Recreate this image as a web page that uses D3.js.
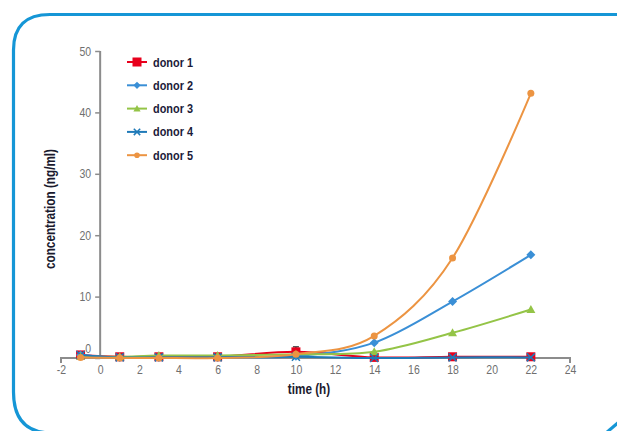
<!DOCTYPE html>
<html><head><meta charset="utf-8">
<script src="https://cdn.jsdelivr.net/npm/d3@7"></script>
<style>
html,body{margin:0;padding:0;background:#fff;}
svg{display:block;}
.lbl{font-family:"Liberation Sans",Arial,sans-serif;}
</style></head>
<body>
<svg id="c" width="617" height="431"></svg>
<script>
const times = [-1, 1, 3, 6, 10, 14, 18, 22];
const seriesNames = ["donor 1", "donor 2", "donor 3", "donor 4", "donor 5"];
const donor1 = [0.5, 0.2, 0.2, 0.2, 1.0, 0.1, 0.2, 0.2];
const donor2 = [0.5, 0.1, 0.1, 0.1, 0.3, 2.5, 9.2, 16.8];
const donor3 = [0.3, 0.2, 0.4, 0.4, 0.6, 1.0, 4.1, 7.9];
const donor4 = [0.5, 0.1, 0.1, 0.1, 0.2, 0.0, 0.1, 0.1];
const donor5 = [0.1, 0.0, 0.0, 0.0, 0.6, 3.6, 16.3, 43.1];
const donor1ErrTime = 10, donor1ErrHigh = 1.8;
const xTicks = [-2, 0, 2, 4, 6, 8, 10, 12, 14, 16, 18, 20, 22, 24];
const yTicks = [0, 10, 20, 30, 40, 50];
const colors = ["#e8001c", "#3a8fd6", "#94c447", "#1f7ab8", "#ec9442"];
const symbols = ["square", "diamond", "triangle", "cross", "circle"];
const allValues = [donor1, donor2, donor3, donor4, donor5];

const SX = 0.84; // condensed look
const svg = d3.select("#c");
// frame
svg.append("path")
  .attr("d", "M640,14.5 H50 Q13.5,14.5 13.5,50 V392 Q13.5,433 52,433")
  .attr("fill", "none").attr("stroke", "#1596d6").attr("stroke-width", 3.2);
svg.append("path")
  .attr("d", "M606,433 L620,421")
  .attr("fill", "none").attr("stroke", "#1596d6").attr("stroke-width", 3.2);

const x = d3.scaleLinear().domain([-2, 24]).range([61, 570]);
const y = d3.scaleLinear().domain([0, 50]).range([358, 51]);

const axisColor = "#8c8c8c";
// y axis
const ya = svg.append("g").attr("transform", `translate(${x(0)},0)`)
  .call(d3.axisLeft(y).tickValues(yTicks).tickSize(5).tickPadding(4).tickFormat(d => String(d)));
ya.select(".domain").attr("stroke", axisColor).attr("stroke-width", 2).attr("d", `M0,${y(0)}V${y(50)}`);
ya.selectAll(".tick line").attr("stroke", axisColor).attr("stroke-width", 1.5);
ya.selectAll(".tick text").attr("class", "lbl").attr("fill", "#6f6f6f").style("font-size", "12.5px")
  .attr("x", -9 / SX).attr("transform", `scale(${SX},1)`)
  .attr("dy", (d) => d === 0 ? "-0.45em" : "0.32em");

// x axis
const xa = svg.append("g").attr("transform", `translate(0,${y(0)})`)
  .call(d3.axisBottom(x).tickValues(xTicks).tickSize(0).tickPadding(7).tickFormat(d => String(d)));
xa.select(".domain").attr("stroke", axisColor).attr("stroke-width", 2).attr("d", `M${x(-2)},5V0H${x(24)}V5`);
xa.selectAll(".tick text").attr("class", "lbl").attr("fill", "#6f6f6f").style("font-size", "12.5px")
  .attr("transform", `scale(${SX},1)`);

function ctext(px, py, rot, str, size, anchor, color, weight) {
  return svg.append("text").attr("class", "lbl")
    .attr("transform", `translate(${px},${py}) rotate(${rot}) scale(${SX},1)`)
    .attr("text-anchor", anchor).style("font-size", size).style("font-weight", weight)
    .attr("fill", color).text(str);
}
// titles
ctext(309, 394, 0, "time (h)", "14px", "middle", "#1a1a2e", "bold");
ctext(55, 209, -90, "concentration (ng/ml)", "14px", "middle", "#1a1a2e", "bold");

const line = d3.line().x(d => x(d[0])).y(d => y(d[1])).curve(d3.curveCatmullRom.alpha(0));

function drawMarker(g, type, color, cx, cy, scale) {
  const s = scale || 1;
  if (type === "square") {
    g.append("rect").attr("x", cx - 4.5 * s).attr("y", cy - 4.5 * s).attr("width", 9 * s).attr("height", 9 * s).attr("fill", color);
  } else if (type === "diamond") {
    g.append("path").attr("d", `M${cx},${cy - 4.5 * s}L${cx + 4.5 * s},${cy}L${cx},${cy + 4.5 * s}L${cx - 4.5 * s},${cy}Z`).attr("fill", color);
  } else if (type === "triangle") {
    g.append("path").attr("d", `M${cx},${cy - 4.5 * s}L${cx + 4.5 * s},${cy + 3.5 * s}L${cx - 4.5 * s},${cy + 3.5 * s}Z`).attr("fill", color);
  } else if (type === "cross") {
    g.append("path").attr("d", `M${cx - 4 * s},${cy - 4 * s}L${cx + 4 * s},${cy + 4 * s}M${cx + 4 * s},${cy - 4 * s}L${cx - 4 * s},${cy + 4 * s}`)
      .attr("stroke", color).attr("stroke-width", 1.5).attr("fill", "none");
  } else {
    g.append("circle").attr("cx", cx).attr("cy", cy).attr("r", 3.5 * s).attr("fill", color);
  }
}

// error bar donor 1
const ex = x(donor1ErrTime);
svg.append("path").attr("d", `M${ex},${y(donor1[times.indexOf(donor1ErrTime)])}V${y(donor1ErrHigh)}M${ex - 3},${y(donor1ErrHigh)}H${ex + 3}`)
  .attr("stroke", "#222").attr("stroke-width", 1.2).attr("fill", "none");

allValues.forEach((vals, i) => {
  const pts = times.map((t, j) => [t, vals[j]]);
  const g = svg.append("g");
  g.append("path").attr("d", line(pts)).attr("fill", "none").attr("stroke", colors[i]).attr("stroke-width", 2);
  pts.forEach(p => drawMarker(g, symbols[i], colors[i], x(p[0]), y(p[1])));
});

// legend
const lg = svg.append("g");
seriesNames.forEach((n, i) => {
  const ly = 62 + i * 23.3;
  lg.append("line").attr("x1", 127).attr("x2", 147).attr("y1", ly).attr("y2", ly).attr("stroke", colors[i]).attr("stroke-width", 2);
  drawMarker(lg, symbols[i], colors[i], 137, ly, symbols[i] === "square" ? 1 : 0.8);
  lg.append("text").attr("class", "lbl")
    .attr("transform", `translate(153,${ly + 4.5}) scale(${SX},1)`).style("font-size", "13px")
    .style("font-weight", "bold").attr("fill", "#1b1b3a").text(n);
});
</script>
</body></html>
